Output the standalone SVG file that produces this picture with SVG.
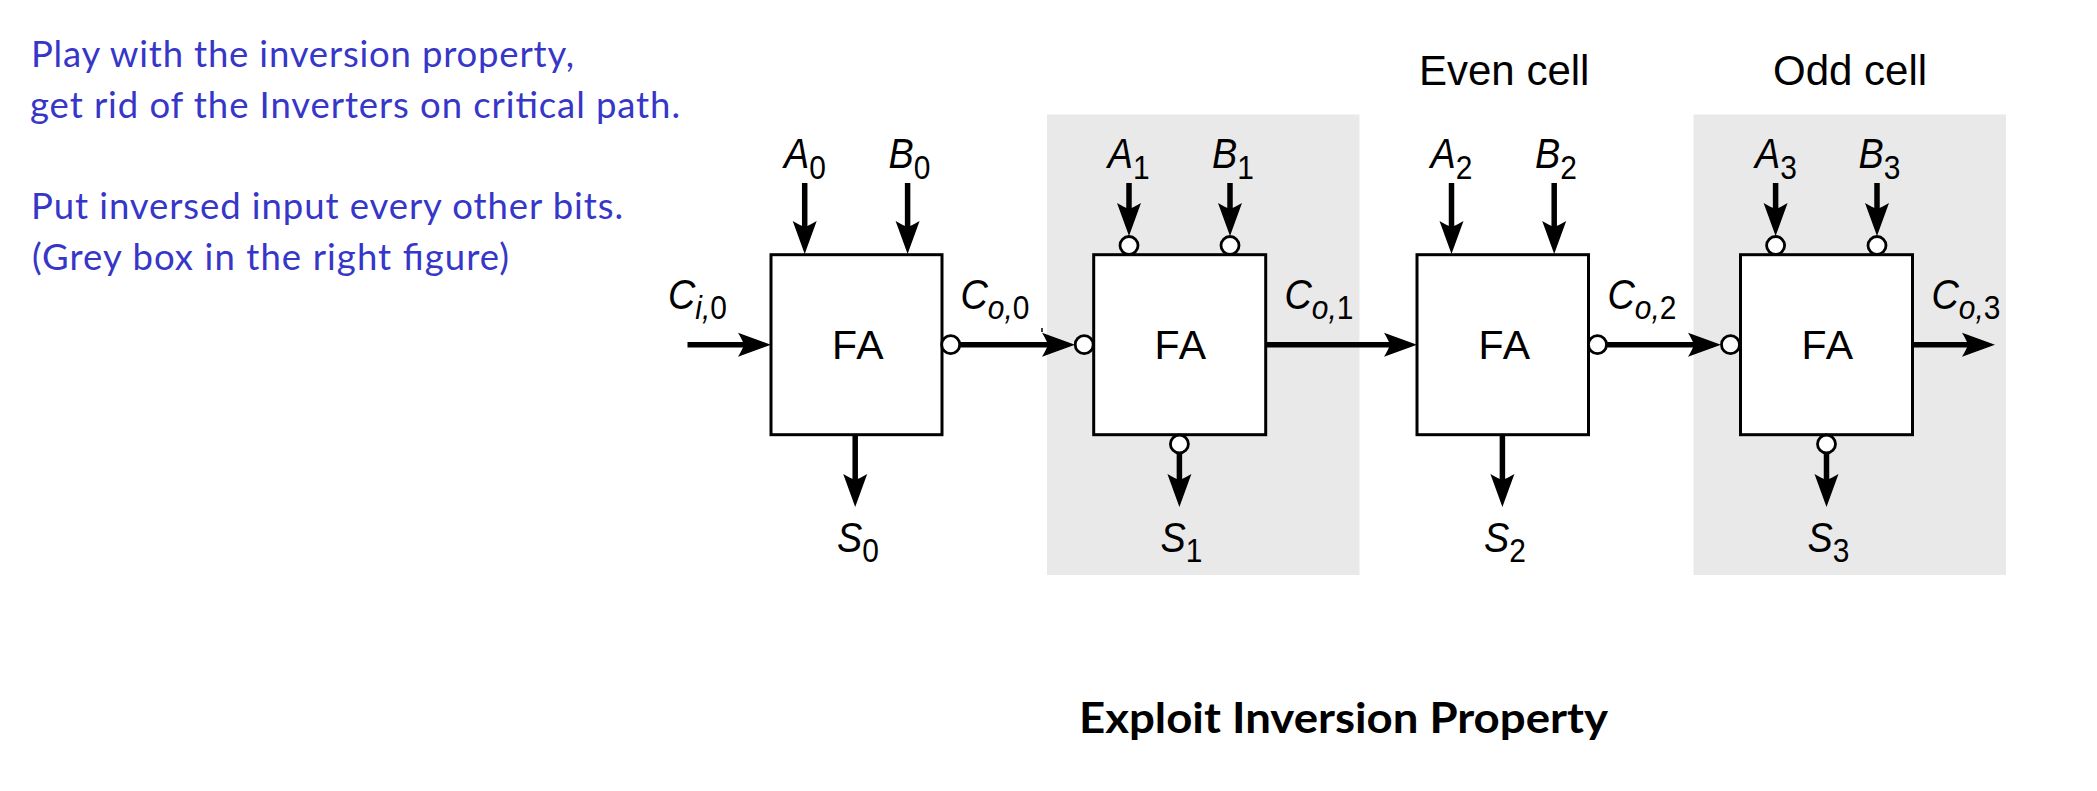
<svg xmlns="http://www.w3.org/2000/svg" width="2097" height="791" viewBox="0 0 2097 791">
<style>
text{font-family:"Liberation Sans",Arial,sans-serif;fill:#000}
.blue{font-family:Lato,"Open Sans",sans-serif;font-size:36.5px;fill:#3636c8}
.title{font-family:Lato,"Open Sans",sans-serif;font-size:42px;font-weight:700}
.cap{font-size:42px}
.fa{font-size:41px;text-anchor:middle;letter-spacing:1.5px}
.l{font-size:43px;font-style:italic}
.s{font-size:34px;font-style:normal}
.si{font-size:34px;font-style:italic}
.box{fill:#fff;stroke:#000;stroke-width:3}
.grey{fill:#e9e9e9}
.w{fill:none;stroke:#000;stroke-width:5.5;marker-end:url(#h)}
.n{fill:#fff;stroke:#000;stroke-width:2.8}
</style>
<defs>
<marker id="h" markerUnits="userSpaceOnUse" markerWidth="36" markerHeight="28" viewBox="0 -14 36 28" refX="6" refY="0" orient="auto">
<path d="M33 0L0-12C3-7 5-3 6 0C5 3 3 7 0 12Z" fill="#000"/>
</marker>
</defs>
<rect width="2097" height="791" fill="#fff"/>
<g id="notes">
<text class="blue" x="31" y="66.7" textLength="543">Play with the inversion property,</text>
<text class="blue" x="30" y="117.7" textLength="650">get rid of the Inverters on critical path.</text>
<text class="blue" x="31" y="219" textLength="592">Put inversed input every other bits.</text>
<text class="blue" x="32" y="270" textLength="477">(Grey box in the right figure)</text>
</g>
<g id="shade">
<rect class="grey" x="1047" y="114.5" width="312.5" height="460.5"/>
<rect class="grey" x="1693.5" y="114.5" width="312.5" height="460.5"/>
</g>
<g id="connectors">
<path class="w" d="M687.5 344.7H744"/>
<path class="w" d="M804.7 183V227"/>
<path class="w" d="M907.6 183V227"/>
<path class="w" d="M855.2 435V480"/>
<path class="w" d="M950 344.7H1048"/>
<path class="w" d="M1129 183V209"/>
<path class="w" d="M1230 183V209"/>
<path class="w" d="M1179.4 444V480"/>
<path class="w" d="M1266 344.7H1390"/>
<path class="w" d="M1451.5 183V227"/>
<path class="w" d="M1554.2 183V227"/>
<path class="w" d="M1502.4 435V480"/>
<path class="w" d="M1597 344.7H1694"/>
<path class="w" d="M1775.6 183V209"/>
<path class="w" d="M1877 183V209"/>
<path class="w" d="M1826.5 444V480"/>
<path class="w" d="M1913 344.7H1968"/>
<path d="M1042 328V332" fill="none" stroke="#000" stroke-width="1.5"/>
</g>
<g id="fa0">
<rect class="box" x="771" y="254.7" width="171" height="180"/>
<text class="fa" x="858.5" y="359.3">FA</text>
<circle class="n" cx="950.7" cy="344.7" r="9"/>
</g>
<g id="fa1">
<rect class="box" x="1093.7" y="254.7" width="172" height="180"/>
<text class="fa" x="1181" y="359.3">FA</text>
<circle class="n" cx="1084.2" cy="344.7" r="9"/>
<circle class="n" cx="1129" cy="245.5" r="9"/>
<circle class="n" cx="1230" cy="245.5" r="9"/>
<circle class="n" cx="1179.4" cy="444" r="9"/>
</g>
<g id="fa2">
<rect class="box" x="1417" y="254.7" width="171.5" height="180"/>
<text class="fa" x="1505" y="359.3">FA</text>
<circle class="n" cx="1597.5" cy="344.7" r="9"/>
</g>
<g id="fa3">
<rect class="box" x="1740.5" y="254.7" width="172" height="180"/>
<text class="fa" x="1828" y="359.3">FA</text>
<circle class="n" cx="1730.5" cy="344.7" r="9"/>
<circle class="n" cx="1775.6" cy="245.5" r="9"/>
<circle class="n" cx="1877" cy="245.5" r="9"/>
<circle class="n" cx="1826.5" cy="444" r="9"/>
</g>
<g id="labels">
<text class="cap" x="1419" y="84.5">Even cell</text>
<text class="cap" x="1773" y="84.5">Odd cell</text>
<text class="l" transform="translate(784 168) scale(.88 1)">A<tspan class="s" dy="10.7">0</tspan></text>
<text class="l" transform="translate(888.5 168) scale(.88 1)">B<tspan class="s" dy="10.7">0</tspan></text>
<text class="l" transform="translate(1107.8 168) scale(.88 1)">A<tspan class="s" dy="10.7">1</tspan></text>
<text class="l" transform="translate(1212 168) scale(.88 1)">B<tspan class="s" dy="10.7">1</tspan></text>
<text class="l" transform="translate(1430.5 168) scale(.88 1)">A<tspan class="s" dy="10.7">2</tspan></text>
<text class="l" transform="translate(1535 168) scale(.88 1)">B<tspan class="s" dy="10.7">2</tspan></text>
<text class="l" transform="translate(1755 168) scale(.88 1)">A<tspan class="s" dy="10.7">3</tspan></text>
<text class="l" transform="translate(1858.5 168) scale(.88 1)">B<tspan class="s" dy="10.7">3</tspan></text>
<text class="l" transform="translate(837 551.5) scale(.88 1)">S<tspan class="s" dy="10.2">0</tspan></text>
<text class="l" transform="translate(1160.5 551.5) scale(.88 1)">S<tspan class="s" dy="10.2">1</tspan></text>
<text class="l" transform="translate(1484 551.5) scale(.88 1)">S<tspan class="s" dy="10.2">2</tspan></text>
<text class="l" transform="translate(1807.5 551.5) scale(.88 1)">S<tspan class="s" dy="10.2">3</tspan></text>
<text class="l" transform="translate(668 309) scale(.88 1)">C<tspan class="si" dy="10">i,</tspan><tspan class="s">0</tspan></text>
<text class="l" transform="translate(960.5 309) scale(.88 1)">C<tspan class="si" dy="10">o,</tspan><tspan class="s">0</tspan></text>
<text class="l" transform="translate(1284.5 309) scale(.88 1)">C<tspan class="si" dy="10">o,</tspan><tspan class="s">1</tspan></text>
<text class="l" transform="translate(1607.5 309) scale(.88 1)">C<tspan class="si" dy="10">o,</tspan><tspan class="s">2</tspan></text>
<text class="l" transform="translate(1931.5 309) scale(.88 1)">C<tspan class="si" dy="10">o,</tspan><tspan class="s">3</tspan></text>
</g>
<text id="title" class="title" x="1079" y="732.7" textLength="529" lengthAdjust="spacingAndGlyphs">Exploit Inversion Property</text>
</svg>
